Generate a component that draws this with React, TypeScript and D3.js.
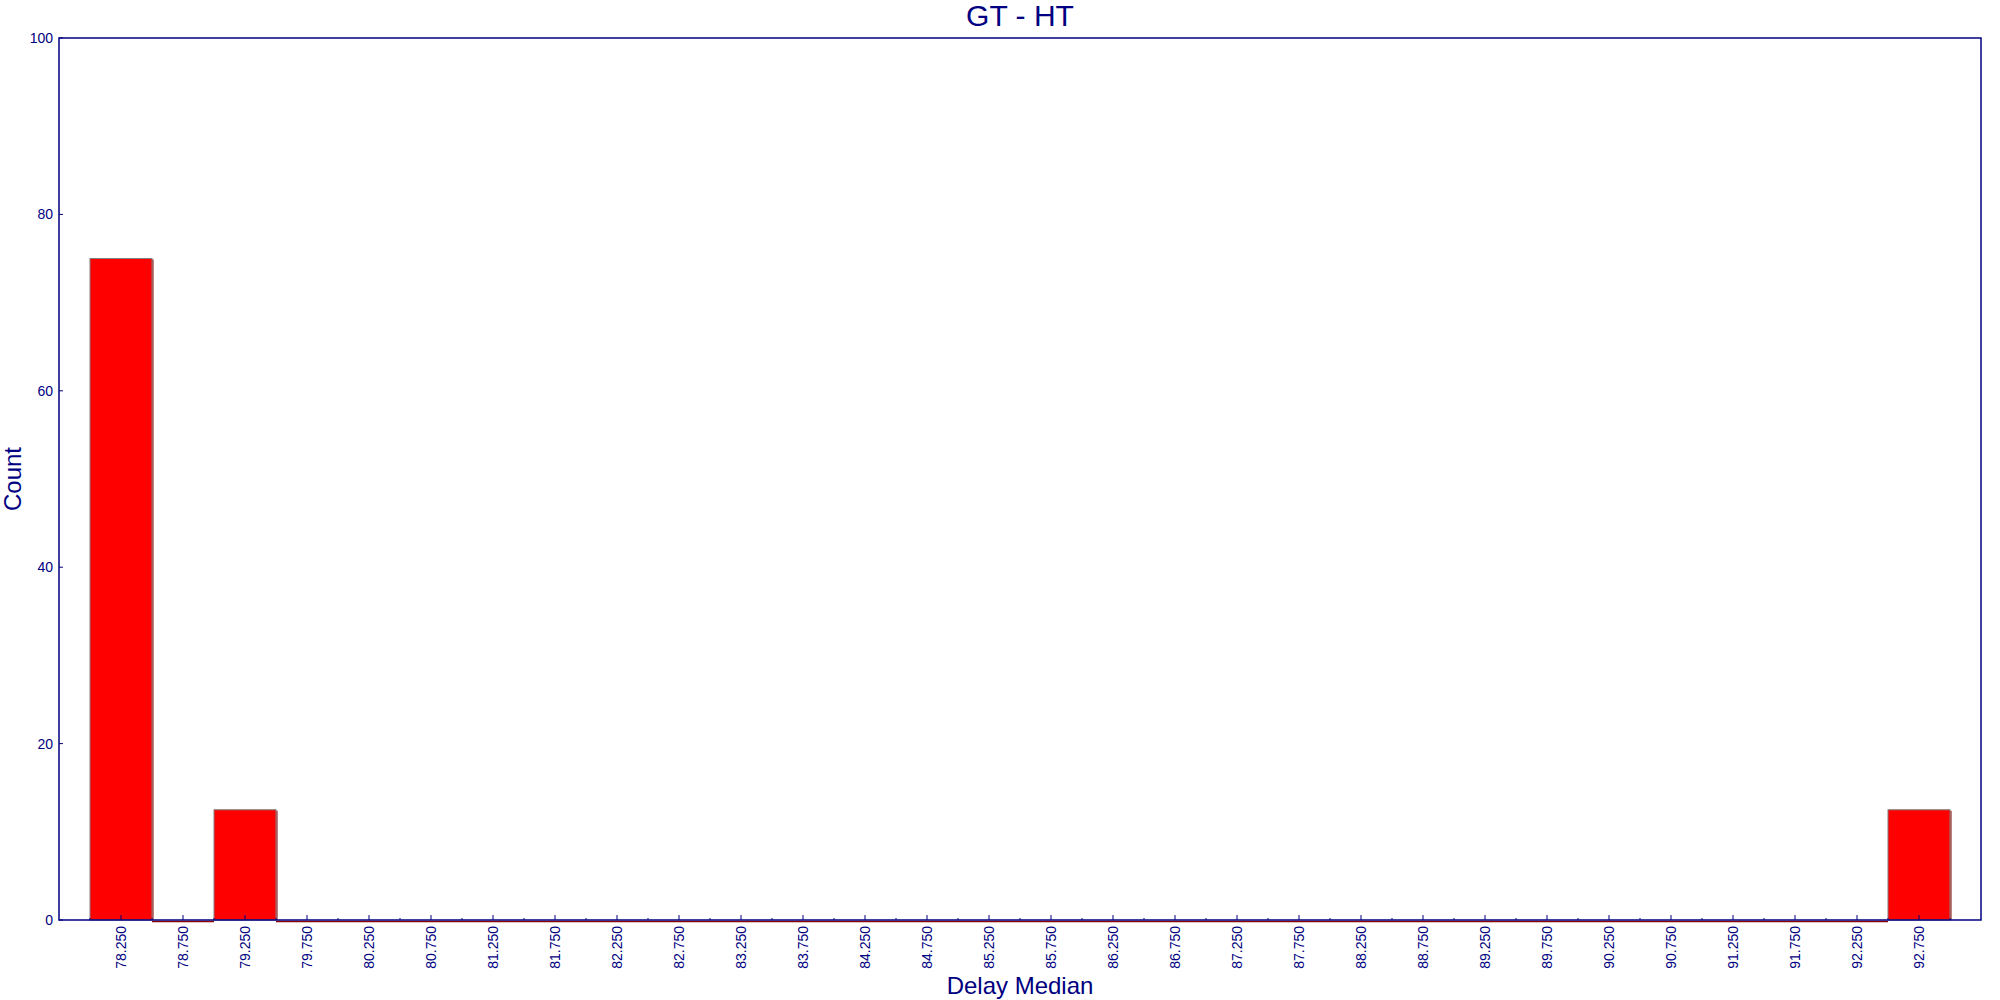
import * as d3 from 'd3';

// bin centres (Delay Median) and counts
const binLabels = [
  '78.250', '78.750', '79.250', '79.750', '80.250', '80.750', '81.250', '81.750',
  '82.250', '82.750', '83.250', '83.750', '84.250', '84.750', '85.250', '85.750',
  '86.250', '86.750', '87.250', '87.750', '88.250', '88.750', '89.250', '89.750',
  '90.250', '90.750', '91.250', '91.750', '92.250', '92.750',
];
const counts = [
  75, 0, 12.5, 0, 0, 0, 0, 0,
  0, 0, 0, 0, 0, 0, 0, 0,
  0, 0, 0, 0, 0, 0, 0, 0,
  0, 0, 0, 0, 0, 12.5,
];
const yTicks = [0, 20, 40, 60, 80, 100];

const NAVY = '#000080';
const FONT = 'Arial, "Liberation Sans", sans-serif';

export default function App() {
  const width = 2000;
  const height = 1000;
  const margin = { top: 38, right: 19, bottom: 80, left: 59 };
  const binW = 0.5;

  const x = d3.scaleLinear()
    .domain([77.75, 93.25])
    .range([margin.left, width - margin.right]);
  const y = d3.scaleLinear()
    .domain([0, 100])
    .range([height - margin.bottom, margin.top]);

  const y0 = y(0);
  const centers = binLabels.map((l) => +l);
  const edges = centers.map((c) => c - binW / 2).concat([centers[centers.length - 1] + binW / 2]);

  return (
    <div style={{ position: 'absolute', left: 0, top: 0 }}>
      <svg width={width} height={height} style={{ display: 'block', background: '#fff' }} fontFamily={FONT}>
        {/* bars */}
        {centers.map((c, i) => {
          const x0 = x(c - binW / 2);
          const x1 = x(c + binW / 2);
          const v = counts[i];
          if (v === 0) {
            return (
              <line key={binLabels[i]} x1={x0} x2={x1} y1={y0 + 1.5} y2={y0 + 1.5}
                stroke="#8b0000" strokeWidth={1.5} />
            );
          }
          return (
            <g key={binLabels[i]}>
              <rect x={x0} y={y(v)} width={x1 - x0} height={y0 - y(v)}
                fill="#ff0000" stroke="#808080" strokeWidth={1} />
              <line x1={x1 + 1} x2={x1 + 1} y1={y(v) + 1} y2={y0}
                stroke="#800000" strokeWidth={1} />
            </g>
          );
        })}

        {/* frame */}
        <rect x={margin.left} y={margin.top}
          width={width - margin.left - margin.right}
          height={height - margin.top - margin.bottom}
          fill="none" stroke={NAVY} strokeWidth={1.5} />

        {/* y axis ticks */}
        {yTicks.map((t) => (
          <g key={t}>
            <line x1={margin.left} x2={margin.left + 4} y1={y(t)} y2={y(t)} stroke={NAVY} strokeWidth={1} />
            <text x={margin.left - 6} y={y(t)} dy="0.35em" textAnchor="end"
              fontSize={14} fill={NAVY}>{t}</text>
          </g>
        ))}

        {/* x axis minor ticks at bin edges */}
        {edges.map((e, i) => (
          <line key={`m${i}`} x1={x(e)} x2={x(e)} y1={y0} y2={y0 - 2} stroke={NAVY} strokeWidth={1} />
        ))}

        {/* x axis major ticks + rotated labels */}
        {centers.map((c, i) => (
          <g key={`t${i}`}>
            <line x1={x(c)} x2={x(c)} y1={y0} y2={y0 - 5} stroke={NAVY} strokeWidth={1} />
            <text transform={`translate(${x(c)}, ${y0 + 6}) rotate(-90)`}
              textAnchor="end" dy="0.35em" fontSize={14} fill={NAVY}>{binLabels[i]}</text>
          </g>
        ))}

        {/* title and axis titles */}
        <text x={(margin.left + width - margin.right) / 2} y={26} textAnchor="middle"
          fontSize={30} fill={NAVY}>GT - HT</text>
        <text x={(margin.left + width - margin.right) / 2} y={994} textAnchor="middle"
          fontSize={24} fill={NAVY}>Delay Median</text>
        <text transform={`translate(21, ${(margin.top + height - margin.bottom) / 2}) rotate(-90)`}
          textAnchor="middle" fontSize={24} fill={NAVY}>Count</text>
      </svg>
    </div>
  );
}
